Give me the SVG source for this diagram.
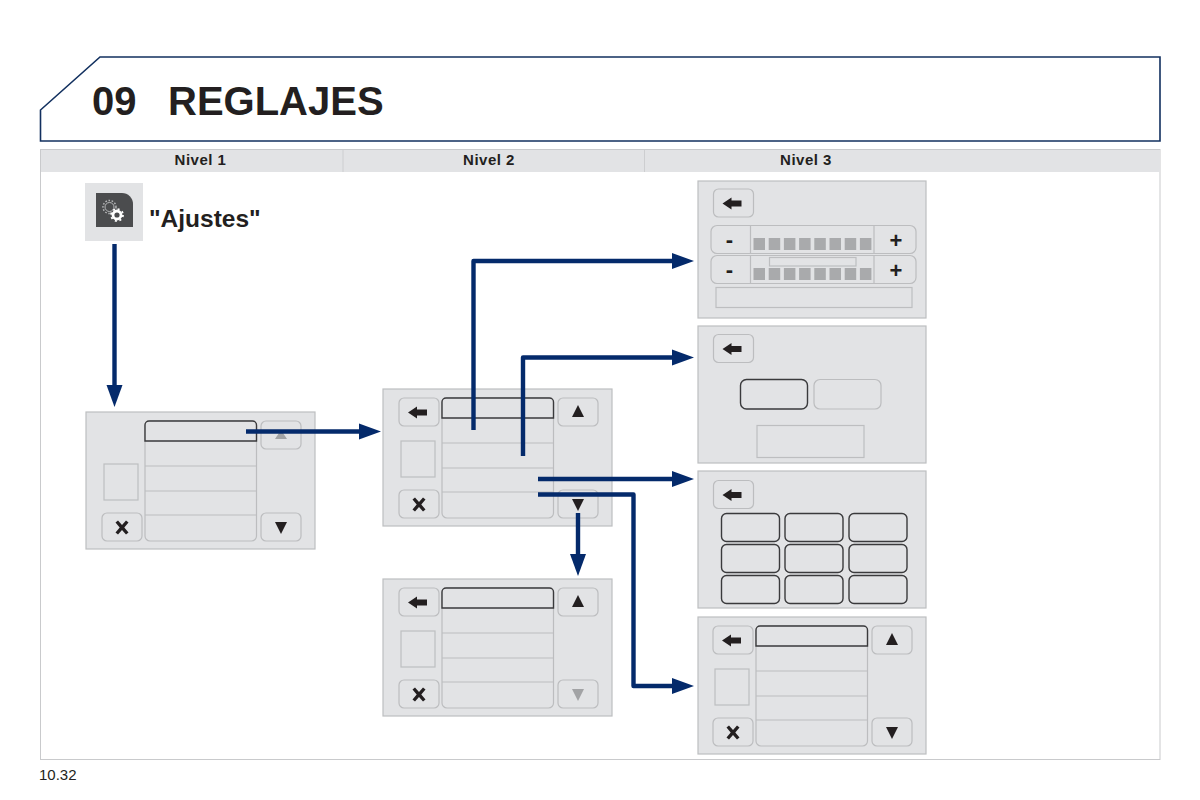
<svg xmlns="http://www.w3.org/2000/svg" width="1200" height="800" viewBox="0 0 1200 800">
<style>
text{font-family:"Liberation Sans",Arial,sans-serif;font-weight:bold;fill:#231f20}
.panel{fill:#e2e3e5;stroke:#bdbec0;stroke-width:1.2}
.btn{fill:#e2e3e5;stroke:#bcbdbf;stroke-width:1.2}
.sel{fill:#e2e3e5;stroke:#3a3a3c;stroke-width:1.4}
.thin{fill:none;stroke:#bcbdbf;stroke-width:1.2}
.box{fill:#e2e3e5;stroke:#bdbec0;stroke-width:1.2}
.ico{fill:#231f20}
.dis{fill:#a2a3a5}
.sq{fill:#a9aaac}
.conn{fill:none;stroke:#042a6b;stroke-width:4.400;stroke-linejoin:round}
.head{fill:#042a6b}
.lvl{font-size:15px;letter-spacing:.5px;text-anchor:middle}
.sign{font-size:22px;text-anchor:middle}
</style>
<defs>
<rect id="b" class="btn" width="40" height="28" rx="5"/>
<g id="back"><use href="#b"/><path class="ico" d="M9 14.500L18 8.500V11.500H28V17.500H18V20.500Z"/></g>
<g id="close"><use href="#b"/><path class="ico" d="M13.500 8.500L16 6.500L20 11L24 6.500L26.500 8.500L22.300 13.500L26.500 18.500L24 20.500L20 16L16 20.500L13.500 18.500L17.700 13.500Z" transform="translate(0 1)"/></g>
<g id="up"><use href="#b"/><path class="ico" d="M20 7L26 19H14Z"/></g>
<g id="down"><use href="#b"/><path class="ico" d="M14 9H26L20 21Z"/></g>
<g id="upd"><use href="#b"/><path class="dis" d="M20 9L26 18H14Z"/></g>
<g id="downd"><use href="#b"/><path class="dis" d="M14 9H26L20 21Z"/></g>
<g id="list">
<rect class="btn" x="59" y="9" width="111.500" height="120" rx="5"/>
<path class="sel" d="M59 29V13a4 4 0 0 1 4-4H166.500a4 4 0 0 1 4 4V29Z"/>
<path class="thin" d="M59 54H170.500M59 79H170.500M59 103H170.500"/>
<rect class="box" x="18" y="52" width="34" height="36"/>
</g>
<g id="squares">
<rect class="sq" width="11.500" height="12"/><rect class="sq" x="15.200" width="11.500" height="12"/><rect class="sq" x="30.400" width="11.500" height="12"/><rect class="sq" x="45.600" width="11.500" height="12"/><rect class="sq" x="60.800" width="11.500" height="12"/><rect class="sq" x="76" width="11.500" height="12"/><rect class="sq" x="91.200" width="11.500" height="12"/><rect class="sq" x="106.400" width="11.500" height="12"/>
</g>
<g id="slider">
<rect class="btn" width="205" height="28" rx="6"/>
<path class="thin" d="M39.500 0V28M163 0V28"/>
<use href="#squares" x="42.500" y="12.500"/>
</g>
<rect id="cell" class="sel" width="58" height="28" rx="5"/>
</defs>

<g id="title">
<path d="M40.500 141H1160V57H100L40.500 110Z" fill="#fff" stroke="#12305f" stroke-width="1.600"/>
<text x="92" y="114.500" font-size="40">09</text>
<text x="168" y="114.500" font-size="40">REGLAJES</text>
</g>

<g id="table">
<rect x="40.500" y="149.500" width="1119.500" height="610" fill="#fff" stroke="#c9cacc" stroke-width="1"/>
<rect x="41" y="150" width="1119" height="22" fill="#e2e3e5"/>
<path d="M343 150V172M644.500 150V172" stroke="#cdced0" stroke-width="1"/>
<text class="lvl" x="200.500" y="165">Nivel 1</text>
<text class="lvl" x="489" y="165">Nivel 2</text>
<text class="lvl" x="806" y="165">Nivel 3</text>
</g>

<g id="ajustes">
<rect x="85" y="183" width="58" height="58" fill="#e2e3e5"/>
<path d="M96 227V193H122a11 11 0 0 1 11 11V227Z" fill="#4b4c4e"/>
<circle cx="109.500" cy="207" r="4.500" fill="none" stroke="#b5b6b8" stroke-width="1"/>
<circle cx="109.500" cy="207" r="6.500" fill="none" stroke="#b5b6b8" stroke-width="1.500" stroke-dasharray="1.600 1.600"/>
<circle cx="117" cy="215" r="4" fill="none" stroke="#fff" stroke-width="2.800"/>
<circle cx="117" cy="215" r="6" fill="none" stroke="#fff" stroke-width="1.800" stroke-dasharray="2 2.700"/>
<text x="149" y="227" font-size="24.500">"Ajustes"</text>
</g>

<g id="panel-1" transform="translate(86 412)">
<rect class="panel" width="229" height="137"/>
<use href="#list"/>
<use href="#close" x="16" y="101"/>
<use href="#upd" x="175" y="9"/>
<use href="#down" x="175" y="101"/>
</g>

<g id="panel-2" transform="translate(383 389)">
<rect class="panel" width="229" height="137"/>
<use href="#list"/>
<use href="#back" x="16" y="9"/>
<use href="#close" x="16" y="101"/>
<use href="#up" x="175" y="9"/>
<use href="#down" x="175" y="101"/>
</g>

<g id="panel-3" transform="translate(383 579)">
<rect class="panel" width="229" height="137"/>
<use href="#list"/>
<use href="#back" x="16" y="9"/>
<use href="#close" x="16" y="101"/>
<use href="#up" x="175" y="9"/>
<use href="#downd" x="175" y="101"/>
</g>

<g id="panel-a" transform="translate(698 181)">
<rect class="panel" width="228" height="137"/>
<use href="#back" x="15.500" y="8"/>
<use href="#slider" x="13" y="44.500"/>
<use href="#slider" x="13" y="74.500"/>
<rect class="box" x="71.500" y="76.500" width="86.500" height="8.500"/>
<rect class="box" x="18" y="106.500" width="196" height="20"/>
<text class="sign" x="31.500" y="66">-</text>
<text class="sign" x="198" y="66.500">+</text>
<text class="sign" x="31.500" y="96">-</text>
<text class="sign" x="198" y="96.500">+</text>
</g>

<g id="panel-b" transform="translate(698 326)">
<rect class="panel" width="228" height="137"/>
<use href="#back" x="15.500" y="8.500"/>
<rect class="sel" x="42.500" y="53.500" width="67" height="29.500" rx="6"/>
<rect class="btn" x="116" y="53.500" width="67" height="29.500" rx="6"/>
<rect class="box" x="59" y="99.500" width="107" height="32"/>
</g>

<g id="panel-c" transform="translate(698 471)">
<rect class="panel" width="228" height="137"/>
<use href="#back" x="15.500" y="9.500"/>
<use href="#cell" x="23.500" y="42.500"/><use href="#cell" x="87" y="42.500"/><use href="#cell" x="151" y="42.500"/>
<use href="#cell" x="23.500" y="73.500"/><use href="#cell" x="87" y="73.500"/><use href="#cell" x="151" y="73.500"/>
<use href="#cell" x="23.500" y="104.500"/><use href="#cell" x="87" y="104.500"/><use href="#cell" x="151" y="104.500"/>
</g>

<g id="panel-d" transform="translate(698 617)">
<rect class="panel" width="228" height="137"/>
<use href="#list" x="-1" y="0"/>
<use href="#back" x="15" y="9"/>
<use href="#close" x="15" y="101"/>
<use href="#up" x="174" y="9"/>
<use href="#down" x="174" y="101"/>
</g>

<g id="connectors">
<path class="conn" d="M114.500 244V388"/><path class="head" d="M106.500 385H122.500L114.500 407Z"/>
<path class="conn" d="M246 431.500H362"/><path class="head" d="M359 423.500V439.500L381 431.500Z"/>
<path class="conn" d="M473.500 430V261H675"/><path class="head" d="M672 253V269L694 261Z"/>
<path class="conn" d="M523 456V357.500H675"/><path class="head" d="M672 349.500V365.500L694 357.500Z"/>
<path class="conn" d="M538 479H675"/><path class="head" d="M672 471V487L694 479Z"/>
<path class="conn" d="M538 494.500H633.500V686H675"/><path class="head" d="M672 678V694L694 686Z"/>
<path class="conn" d="M578 513V556"/><path class="head" d="M570 554H586L578 576Z"/>
</g>

<text x="39" y="780" font-size="15" style="font-weight:normal">10.32</text>
</svg>
